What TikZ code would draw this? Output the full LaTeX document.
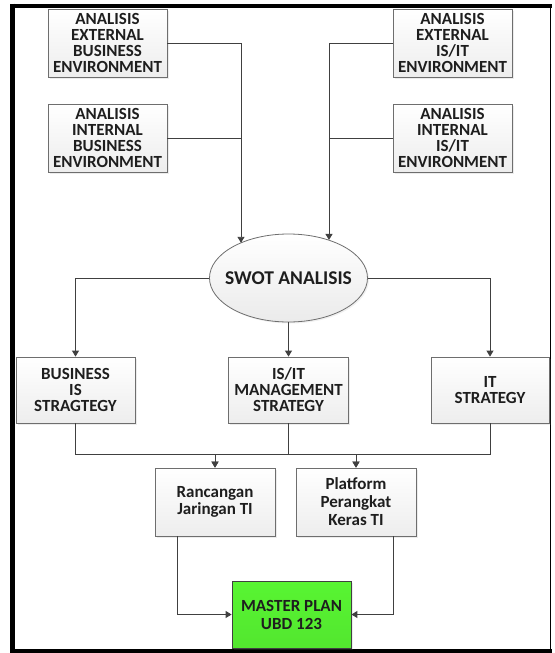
\documentclass[tikz,border=0pt]{standalone}
\usepackage{fontspec}
\setmainfont{Carlito}
\usetikzlibrary{arrows.meta,shapes.geometric,shadows,calc}
\definecolor{linec}{RGB}{64,64,64}
\definecolor{boxline}{RGB}{110,110,110}
\definecolor{txt}{RGB}{30,30,30}
\definecolor{mgreen}{RGB}{88,245,50}
\tikzset{
  boxstyle/.style={draw=boxline, line width=0.8pt, rectangle, align=center, inner sep=0pt,
    top color=white, bottom color=black!7, text=txt,
    font=\bfseries\fontsize{17}{16}\selectfont,
    drop shadow={shadow xshift=1.5pt, shadow yshift=-1.5pt, opacity=0.15}},
  conn/.style={draw=linec, line width=0.9pt},
  arr/.style={conn, -{Triangle[width=7pt,length=6pt]}},
}
\begin{document}
\begin{tikzpicture}[x=1pt,y=-1pt]
\useasboundingbox (0,0) rectangle (554,653);
% frame
\draw[line width=5pt] (12.5,3.5) -- (12.5,653);
\draw[line width=4pt] (10,6) -- (551.5,6);
\draw[line width=1.6pt] (550.5,4) -- (550.5,653);
\draw[line width=4pt] (10,651) -- (551.5,651);
% top boxes
\node[boxstyle, minimum width=119, minimum height=68] (eb) at (107.5,43) {ANALISIS\\EXTERNAL\\BUSINESS\\ENVIRONMENT};
\node[boxstyle, minimum width=119, minimum height=68] (ib) at (107.5,138) {ANALISIS\\INTERNAL\\BUSINESS\\ENVIRONMENT};
\node[boxstyle, minimum width=119, minimum height=68] (ei) at (452.5,43) {ANALISIS\\EXTERNAL\\IS/IT\\ENVIRONMENT};
\node[boxstyle, minimum width=119, minimum height=68] (ii) at (452.5,138) {ANALISIS\\INTERNAL\\IS/IT\\ENVIRONMENT};
% swot
\node[ellipse, draw=boxline, line width=0.8pt, minimum width=158, minimum height=88, inner sep=0pt,
  top color=white, bottom color=black!8, text=txt, font=\bfseries\fontsize{19.5}{19}\selectfont,
  drop shadow={shadow xshift=1.5pt, shadow yshift=-1.5pt, opacity=0.12}]
  (swot) at (288.5,278) {\makebox[0pt]{SWOT ANALISIS}};
% strategies
\node[boxstyle, minimum width=119, minimum height=66] (bis) at (75.5,390) {BUSINESS\\IS\\STRAGTEGY};
\node[boxstyle, minimum width=120, minimum height=66] (mgmt) at (288.5,390) {IS/IT\\MANAGEMENT\\STRATEGY};
\node[boxstyle, minimum width=118, minimum height=66] (its) at (490,390) {IT\\STRATEGY};
% lower
\node[boxstyle, minimum width=120, minimum height=68, font=\bfseries\fontsize{17}{17.5}\selectfont] (ran) at (215,502) {Rancangan\\Jaringan TI};
\node[boxstyle, minimum width=120, minimum height=68, font=\bfseries\fontsize{17}{18}\selectfont] (plat) at (356,502) {Platform\\Perangkat\\Keras TI};
\node[boxstyle, draw=linec, top color=mgreen, bottom color=mgreen!94!black, minimum width=119, minimum height=67, font=\bfseries\fontsize{17}{18}\selectfont] (master) at (291.5,614.5) {MASTER PLAN\\UBD 123};
% connectors top
\coordinate (jl) at (241,138);
\coordinate (jr) at (329,138);
\draw[conn] (eb.east) -| (jl);
\draw[conn] (ib.east) -- (jl);
\draw[arr] (jl) -- (jl |- swot.144);
\draw[conn] (ei.west) -| (jr);
\draw[conn] (ii.west) -- (jr);
\draw[arr] (jr) -- (jr |- swot.43);
% swot to strategies
\draw[arr] (swot.west) -| (bis.north);
\draw[arr] (swot.south) -- (mgmt.north);
\draw[arr] (swot.east) -| (its.north);
% strategies to lower
\coordinate (h) at (0,454);
\draw[arr] (bis.south) -- (bis.south |- h) -| (ran.north);
\draw[arr] (mgmt.south) -- (mgmt.south |- h) -| (ran.north);
\draw[arr] (mgmt.south |- h) -| (plat.north);
\draw[arr] (its.south) -- (its.south |- h) -| (plat.north);
% lower to master
\draw[arr] ([xshift=-38pt]ran.south) |- (master.west);
\draw[arr] ([xshift=37pt]plat.south) |- (master.east);
\end{tikzpicture}
\end{document}
